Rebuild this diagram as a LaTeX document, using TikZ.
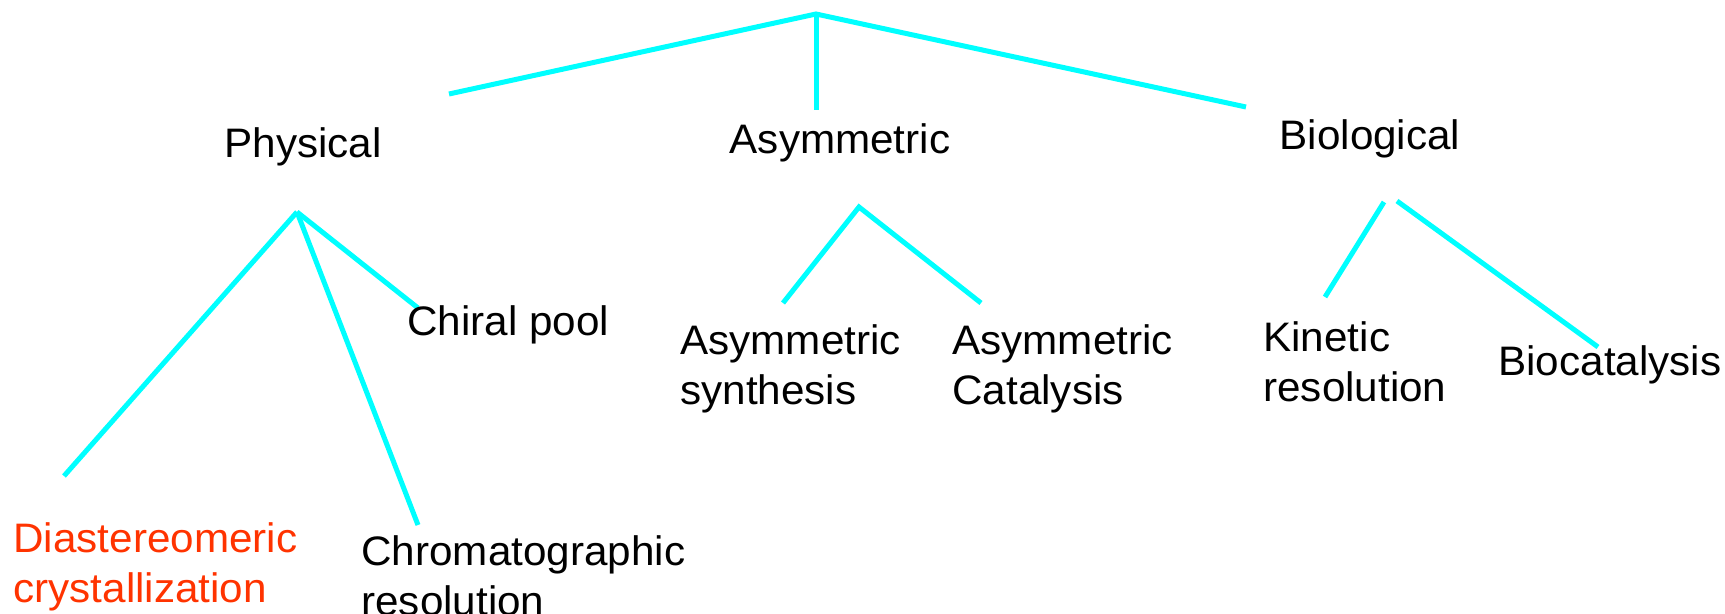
\documentclass[tikz,border=0pt]{standalone}
\usepackage{fontspec}
\setmainfont{Liberation Sans}[FakeStretch=1.025]
\usepackage{tikz}
\definecolor{TreeLine}{HTML}{00FFFF}
\definecolor{HiText}{HTML}{FF3300}

\begin{document}
\begin{tikzpicture}[x=0.5pt,y=-0.5pt]
  \tikzstyle{mylab}=[inner sep=0pt, font=\fontsize{20.6}{25}\selectfont, align=left]
  \tikzstyle{mybranch}=[draw=TreeLine, line width=2.5pt]
  \useasboundingbox (0,0) rectangle (1725,614);
  % top level
  \coordinate (top) at (816,14);
  \coordinate (tl) at (449,94);
  \coordinate (tm) at (816,110);
  \coordinate (tr) at (1246,107);
  \draw[mybranch] (tl) -- (top) -- (tr);
  \draw[mybranch] (top) -- (tm);
  \node[mylab] (phys) at (303,147) {Physical};
  \node[mylab] (asym) at (840,143) {Asymmetric};
  \node[mylab] (bio) at (1370,139) {Biological};
  % Physical
  \coordinate (pa) at (297,212);
  \coordinate (p1) at (64,476);
  \coordinate (p2) at (418,525);
  \coordinate (p3) at (418,308);
  \draw[mybranch] (pa) -- (p1);
  \draw[mybranch] (pa) -- (p2);
  \draw[mybranch] (pa) -- (p3);
  \node[mylab, anchor=west] (pool) at (407,325) {Chiral pool};
  \node[mylab, anchor=west, text=HiText] (cryst) at (13,567) {Diastereomeric\\crystallization};
  \node[mylab, anchor=west] (chrom) at (361,576) {Chromatographic\\resolution};
  % Asymmetric
  \coordinate (aa) at (859,207);
  \coordinate (a1) at (783,303);
  \coordinate (a2) at (981,303);
  \draw[mybranch] (a1) -- (aa) -- (a2);
  \node[mylab, anchor=west] (syn) at (680,369) {Asymmetric\\synthesis};
  \node[mylab, anchor=west] (cat) at (952,369) {Asymmetric\\Catalysis};
  % Biological
  \coordinate (ba) at (1384,202);
  \coordinate (b1) at (1325,297);
  \coordinate (bb) at (1397,201);
  \coordinate (b2) at (1598,347);
  \draw[mybranch] (ba) -- (b1);
  \draw[mybranch] (bb) -- (b2);
  \node[mylab, anchor=west] (kin) at (1263,362) {Kinetic\\resolution};
  \node[mylab, anchor=west] (biocat) at (1498,365) {Biocatalysis};
\end{tikzpicture}
\end{document}
